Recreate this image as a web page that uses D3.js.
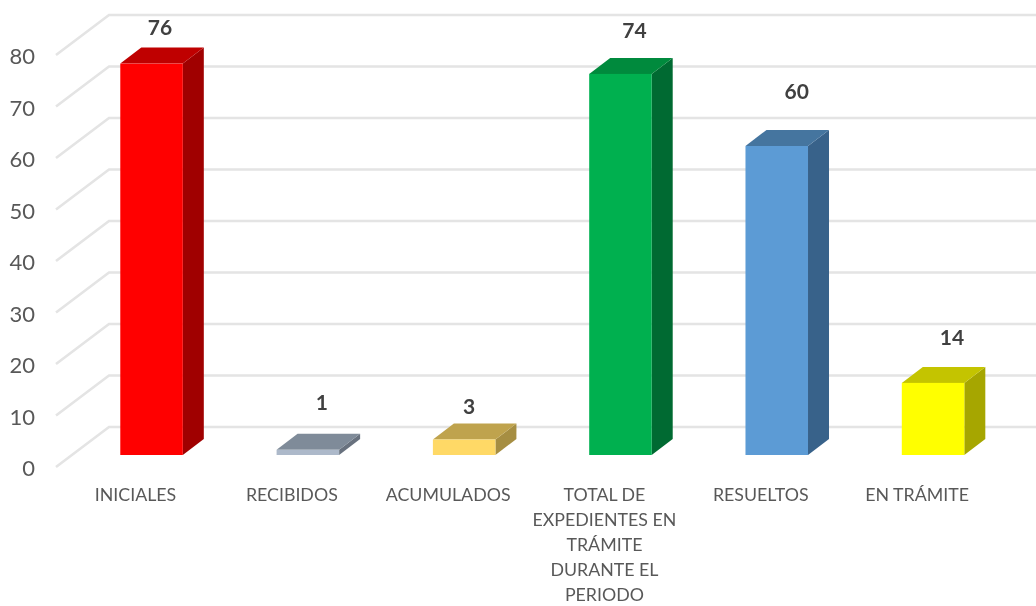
<!DOCTYPE html>
<html>
<head>
<meta charset="utf-8">
<script src="https://cdn.jsdelivr.net/npm/d3@7"></script>
<style>
html,body{margin:0;padding:0;background:#fff;overflow:hidden}
svg{display:block}
text{font-family:Lato,"Open Sans",sans-serif}
</style>
</head>
<body>
<svg id="chart" width="1036" height="606"></svg>
<script>
const categories = ["INICIALES","RECIBIDOS","ACUMULADOS","TOTAL DE EXPEDIENTES EN TRÁMITE DURANTE EL PERIODO","RESUELTOS","EN TRÁMITE"];
const categoryLines = [["INICIALES"],["RECIBIDOS"],["ACUMULADOS"],["TOTAL DE","EXPEDIENTES EN","TRÁMITE","DURANTE EL","PERIODO"],["RESUELTOS"],["EN TRÁMITE"]];
const values = [76,1,3,74,60,14];
const tickValues = [0,10,20,30,40,50,60,70,80];

const frontColors = ["#ff0000","#adb9ca","#ffd966","#00b050","#5b9bd5","#ffff00"];
const topColors   = ["#bf0000","#7f8b99","#bfa34d","#008a3c","#44749f","#c4c400"];
const sideColors  = ["#a00000","#67717e","#a68e43","#006b30","#39628a","#a6a600"];
const labelDx = [8.5,14,5,14,20,19];
const labelDy = [-35.5,-47,-32.5,-43,-54,-45];

const svg = d3.select("#chart");
const depthX = 21, depthY = 16, wallX = 53, wallY = 40;

const x = d3.scaleBand().domain(categories).range([73.4,1011.2]).paddingInner(0.6).paddingOuter(0.3);
const y = d3.scaleLinear().domain([0,80]).range([455,43]);
const yAxisScale = d3.scaleLinear().domain([0,80]).range([467,55]);

const defs = svg.append("defs");
defs.append("filter").attr("id","soft")
  .attr("x","-5%").attr("y","-5%").attr("width","110%").attr("height","110%")
  .append("feGaussianBlur").attr("stdDeviation",0.5);
defs.append("filter").attr("id","softText")
  .attr("x","-5%").attr("y","-5%").attr("width","110%").attr("height","110%")
  .append("feGaussianBlur").attr("stdDeviation",0.3);

// walls
const grid = svg.append("g").attr("fill","none").attr("stroke","#e4e4e4").attr("stroke-width",2.6).attr("filter","url(#soft)");
grid.selectAll("path").data(tickValues).join("path")
  .attr("d", d => {
    const p = d3.path(), yy = yAxisScale(d);
    p.moveTo(56, yy); p.lineTo(56+wallX, yy-wallY); p.lineTo(1036, yy-wallY);
    return p.toString();
  });

// y axis labels
const axis = svg.append("g").attr("transform","translate(35,1.2)").attr("filter","url(#softText)")
  .call(d3.axisLeft(yAxisScale).tickValues(tickValues).tickSize(0).tickPadding(0));
axis.select(".domain").remove();
axis.selectAll("text").attr("font-size",22).attr("fill","#595959")
  .style("font-family","Lato,'Open Sans',sans-serif").attr("dy","0.35em");

// 3D bars
const bars = svg.append("g").attr("filter","url(#soft)").selectAll("g").data(categories).join("g");
function poly(pts){ return pts.map(p=>p.join(",")).join(" "); }
bars.append("polygon").attr("fill",(d,i)=>sideColors[i]).attr("points",(d,i)=>{
  const r = x(d)+x.bandwidth(), t = y(values[i]), b = y(0);
  return poly([[r,t],[r+depthX,t-depthY],[r+depthX,b-depthY],[r,b]]);
});
bars.append("polygon").attr("fill",(d,i)=>topColors[i]).attr("points",(d,i)=>{
  const l = x(d), r = l+x.bandwidth(), t = y(values[i]);
  return poly([[l,t],[l+depthX,t-depthY],[r+depthX,t-depthY],[r,t]]);
});
bars.append("rect").attr("fill",(d,i)=>frontColors[i])
  .attr("x",d=>x(d)).attr("width",x.bandwidth())
  .attr("y",(d,i)=>y(values[i])).attr("height",(d,i)=>y(0)-y(values[i]));

// data labels
svg.append("g").attr("filter","url(#softText)").selectAll("text").data(categories).join("text")
  .attr("x",(d,i)=>x(d)+x.bandwidth()/2+labelDx[i])
  .attr("y",(d,i)=>y(values[i])+labelDy[i])
  .attr("dy","0.35em").attr("text-anchor","middle")
  .attr("font-size",21).attr("font-weight",700).attr("fill","#404040")
  .text((d,i)=>values[i]);

// category labels
const cat = svg.append("g").attr("filter","url(#softText)").selectAll("text").data(categories).join("text")
  .attr("text-anchor","middle").attr("font-size",17.8).attr("fill","#595959");
cat.each(function(d,i){
  d3.select(this).selectAll("tspan").data(categoryLines[i]).join("tspan")
    .attr("x",x(d)+x.bandwidth()/2-16)
    .attr("y",(l,j)=>500.5+j*25.2)
    .text(l=>l);
});
</script>
</body>
</html>
